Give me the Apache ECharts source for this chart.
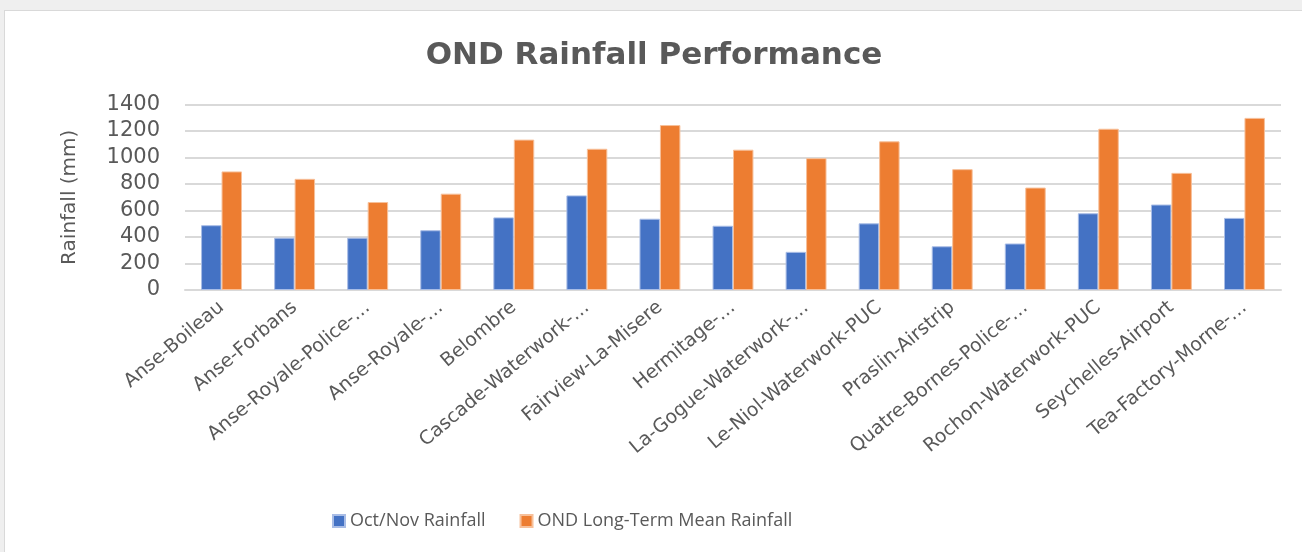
<!DOCTYPE html>
<html><head><meta charset="utf-8">
<script src="https://cdn.jsdelivr.net/npm/echarts@6/dist/echarts.min.js"></script>
<style>
html,body{margin:0;padding:0;background:#efefef;width:1302px;height:552px;overflow:hidden}
#frame{position:absolute;left:4px;top:10px;width:1298px;height:542px;background:#fff;border-top:1px solid #d9d9d9;border-left:1px solid #d9d9d9}
#c{position:absolute;left:0;top:0;width:1298px;height:542px}
</style></head>
<body><div id="frame"><div id="c"></div></div>
<script>
const categories = ["Anse-Boileau","Anse-Forbans","Anse-Royale-Police-…","Anse-Royale-…","Belombre","Cascade-Waterwork-…","Fairview-La-Misere","Hermitage-…","La-Gogue-Waterwork-…","Le-Niol-Waterwork-PUC","Praslin-Airstrip","Quatre-Bornes-Police-…","Rochon-Waterwork-PUC","Seychelles-Airport","Tea-Factory-Morne-…"];
const octNov = [489,395,395,451,548,714,538,485,288,503,330,351,579,645,544];
const longTerm = [895,839,664,727,1135,1066,1245,1059,995,1122,912,773,1217,884,1299];
const yTicks = [0,200,400,600,800,1000,1200,1400];

const chart = echarts.init(document.getElementById('c'));
const font = "'DejaVu Sans', 'Open Sans', sans-serif";
const font2 = "'Open Sans', 'Noto Sans', sans-serif";
chart.setOption({
  animation:false,
  title:{text:'OND Rainfall Performance',left:'center',top:24,textStyle:{fontFamily:font,fontSize:31,fontWeight:'bold',color:'#595959'}},
  legend:{bottom:18,left:322,itemWidth:12,itemHeight:12,itemGap:34,icon:'rect',
    textStyle:{fontFamily:font2,fontSize:18,color:'#595959'},data:['Oct/Nov Rainfall','OND Long-Term Mean Rainfall']},
  grid:{left:180,right:22,top:93.5,bottom:263,containLabel:false},
  xAxis:{type:'category',data:categories,
    axisLine:{lineStyle:{color:'#d9d9d9',width:2}},axisTick:{show:false},
    axisLabel:{rotate:40,interval:0,fontFamily:font,fontSize:19,color:'#595959',margin:15}},
  yAxis:{type:'value',min:yTicks[0],max:yTicks[yTicks.length-1],interval:200,
    name:'Rainfall (mm)',nameLocation:'middle',nameGap:105,nameRotate:90,
    nameTextStyle:{fontFamily:font,fontSize:20,color:'#595959'},
    axisLine:{show:false},axisTick:{show:false},
    axisLabel:{fontFamily:font,fontSize:21,color:'#595959',margin:25,formatter:function(v){return String(v);}},
    splitLine:{lineStyle:{color:'#d9d9d9',width:2}}},
  series:[
    {name:'Oct/Nov Rainfall',type:'bar',data:octNov,barGap:'0%',barCategoryGap:'44%',
      itemStyle:{color:'#4472C4',borderColor:'#a9bde6',borderWidth:1}},
    {name:'OND Long-Term Mean Rainfall',type:'bar',data:longTerm,barGap:'0%',barCategoryGap:'44%',
      itemStyle:{color:'#ED7D31',borderColor:'#f7c09a',borderWidth:1}}
  ]
});
</script></body></html>
